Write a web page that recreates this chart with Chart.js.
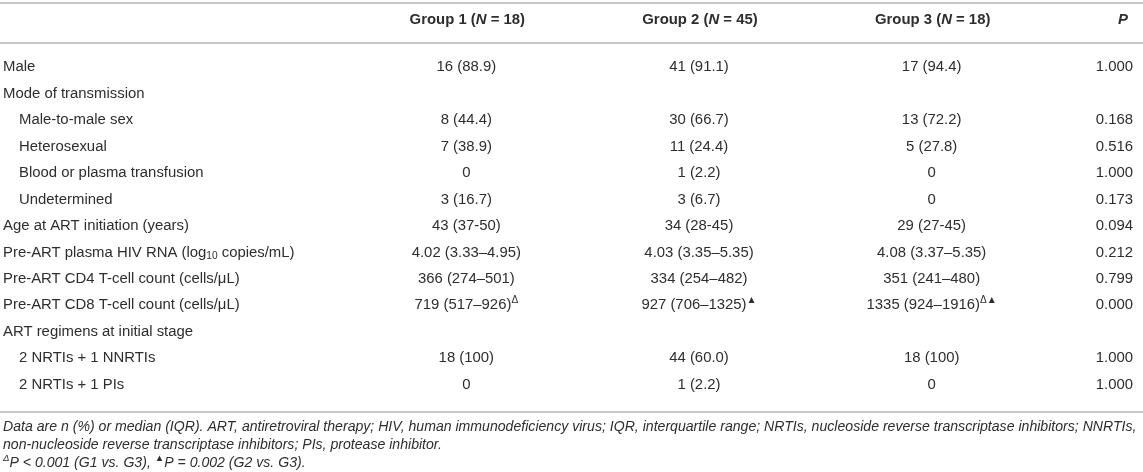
<!DOCTYPE html>
<html>
<head>
<meta charset="utf-8">
<script src="https://cdn.jsdelivr.net/npm/chart.js@4/dist/chart.umd.min.js"></script>
<style>
  html, body { margin: 0; padding: 0; background: #fff; }
  #wrap { position: relative; width: 1143px; height: 472px; }
</style>
</head>
<body>
<div id="wrap"><canvas id="tbl"></canvas></div>
<script>
/* ─── TABLE DATA ─── */
// markup: *italic*  ^{sup}  _{sub}
const GROUP_HEADERS = ['Group 1 (*N* = 18)', 'Group 2 (*N* = 45)', 'Group 3 (*N* = 18)'];
const P_HEADER = '*P*';

const ROW_LABELS = [
  'Male',
  'Mode of transmission',
  'Male-to-male sex',
  'Heterosexual',
  'Blood or plasma transfusion',
  'Undetermined',
  'Age at ART initiation (years)',
  'Pre-ART plasma HIV RNA (log_{10} copies/mL)',
  'Pre-ART CD4 T-cell count (cells/μL)',
  'Pre-ART CD8 T-cell count (cells/μL)',
  'ART regimens at initial stage',
  '2 NRTIs + 1 NNRTIs',
  '2 NRTIs + 1 PIs'
];
const ROW_LEVEL = [0, 0, 1, 1, 1, 1, 0, 0, 0, 0, 0, 1, 1];

const GROUP_1 = ['16 (88.9)', '', '8 (44.4)', '7 (38.9)', '0', '3 (16.7)', '43 (37-50)',
  '4.02 (3.33–4.95)', '366 (274–501)', '719 (517–926)^{Δ}', '', '18 (100)', '0'];
const GROUP_2 = ['41 (91.1)', '', '30 (66.7)', '11 (24.4)', '1 (2.2)', '3 (6.7)', '34 (28-45)',
  '4.03 (3.35–5.35)', '334 (254–482)', '927 (706–1325)^{▲}', '', '44 (60.0)', '1 (2.2)'];
const GROUP_3 = ['17 (94.4)', '', '13 (72.2)', '5 (27.8)', '0', '0', '29 (27-45)',
  '4.08 (3.37–5.35)', '351 (241–480)', '1335 (924–1916)^{Δ▲}', '', '18 (100)', '0'];
const P_VALUES = ['1.000', '', '0.168', '0.516', '1.000', '0.173', '0.094',
  '0.212', '0.799', '0.000', '', '1.000', '1.000'];

const FOOTNOTES = [
  'Data are n (%) or median (IQR). ART, antiretroviral therapy; HIV, human immunodeficiency virus; IQR, interquartile range; NRTIs, nucleoside reverse transcriptase inhibitors; NNRTIs,',
  'non-nucleoside reverse transcriptase inhibitors; PIs, protease inhibitor.',
  '^{Δ}P < 0.001 (G1 vs. G3), ^{▲}P = 0.002 (G2 vs. G3).'
];

/* ─── STYLE ─── */
const FONT_FAMILY = '"Liberation Sans", Arial, sans-serif';
const TEXT_COLOR = '#2e2e2e';
const RULE_COLOR = '#b4b4b4';

function fontStr(italic, bold, size) {
  return `${italic ? 'italic ' : ''}${bold ? 'bold ' : ''}${size}px ${FONT_FAMILY}`;
}

function richRuns(str) {
  return str.split(/(\^\{[^}]*\}|_\{[^}]*\}|\*[^*]+\*)/).filter(Boolean).map(tok => {
    if (tok.startsWith('^{')) return { t: tok.slice(2, -1), sup: true };
    if (tok.startsWith('_{')) return { t: tok.slice(2, -1), sub: true };
    if (tok.startsWith('*') && tok.length > 2) return { t: tok.slice(1, -1), italic: true };
    return { t: tok };
  });
}

function drawRich(ctx, str, x, y, align, f) {
  if (!str) return;
  const runs = richRuns(str);
  let total = 0;
  runs.forEach(r => {
    const size = (r.sup || r.sub) ? f.size * 0.68 : f.size;
    r.font = fontStr(f.italic || r.italic, f.bold, size);
    ctx.font = r.font;
    r.w = ctx.measureText(r.t).width;
    total += r.w;
  });
  let cx = align === 'center' ? x - total / 2 : align === 'right' ? x - total : x;
  ctx.textAlign = 'left';
  ctx.textBaseline = 'middle';
  ctx.fillStyle = TEXT_COLOR;
  runs.forEach(r => {
    ctx.font = r.font;
    const dy = r.sup ? -f.size * 0.36 : r.sub ? f.size * 0.26 : 0;
    ctx.fillText(r.t, cx, y + dy);
    cx += r.w;
  });
}

function hRule(ctx, y, width) {
  ctx.save();
  ctx.strokeStyle = RULE_COLOR;
  ctx.lineWidth = 1.5;
  ctx.beginPath();
  ctx.moveTo(0, y);
  ctx.lineTo(width, y);
  ctx.stroke();
  ctx.restore();
}

/* ─── TABLE PLUGIN: draws cells on the category scales ─── */
const tablePlugin = {
  id: 'tablePlugin',
  afterDraw(chart) {
    const { ctx, chartArea: area, scales: { x, y } } = chart;
    const W = chart.width;
    const body = { size: 14.9 };
    const pRight = W - 10;

    ctx.save();
    // header
    hRule(ctx, area.top - 51, W);
    GROUP_HEADERS.forEach((h, j) => drawRich(ctx, h, x.getPixelForValue(j) + 1, area.top - 34, 'center', { size: 14.9, bold: true }));
    drawRich(ctx, P_HEADER, pRight - 10, area.top - 34, 'center', { size: 14.9, bold: true });
    hRule(ctx, area.top - 11, W);

    // body rows
    const cols = [GROUP_1, GROUP_2, GROUP_3];
    ROW_LABELS.forEach((label, i) => {
      const py = y.getPixelForValue(i);
      drawRich(ctx, label, 3 + ROW_LEVEL[i] * 16, py, 'left', body);
      cols.forEach((col, j) => drawRich(ctx, col[i], x.getPixelForValue(j), py, 'center', body));
      drawRich(ctx, P_VALUES[i], pRight, py, 'right', body);
    });
    hRule(ctx, area.bottom + 14, W);

    // footnotes
    FOOTNOTES.forEach((note, k) => drawRich(ctx, note, 3, area.bottom + 29 + k * 18, 'left', { size: 14.1, italic: true }));
    ctx.restore();
  }
};

new Chart(document.getElementById('tbl'), {
  type: 'scatter',
  data: { datasets: [] },
  options: {
    responsive: true,
    maintainAspectRatio: false,
    animation: false,
    layout: { padding: { left: 350, right: 95, top: 54, bottom: 74 } },
    plugins: { legend: { display: false }, tooltip: { enabled: false } },
    scales: {
      x: { type: 'category', labels: GROUP_HEADERS, offset: true, display: false },
      y: { type: 'category', labels: ROW_LABELS, offset: true, display: false }
    }
  },
  plugins: [tablePlugin]
});
</script>
</body>
</html>
